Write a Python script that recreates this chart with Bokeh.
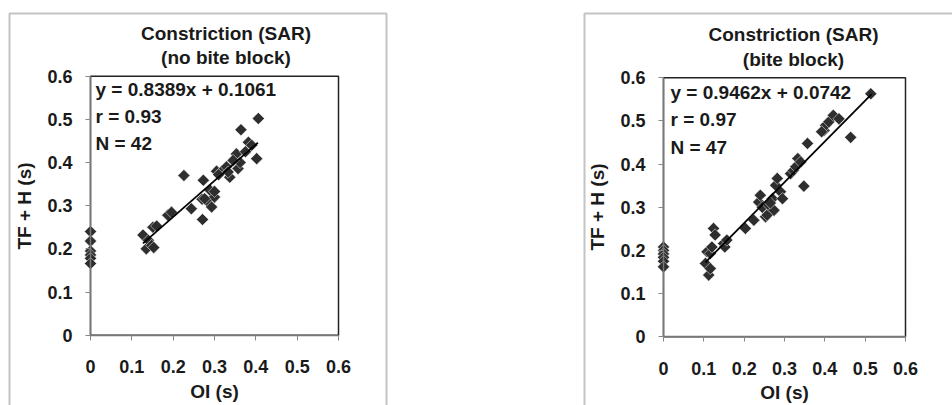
import numpy as np
from bokeh.plotting import figure
from bokeh.layouts import row
from bokeh.models import (FixedTicker, Label, ColumnDataSource,
                          GlobalInlineStyleSheet)
from bokeh.embed import file_html
from bokeh.resources import INLINE

# ---------------- data ----------------
tick_values = [0.0, 0.1, 0.2, 0.3, 0.4, 0.5, 0.6]
tick_labels = ["0", "0.1", "0.2", "0.3", "0.4", "0.5", "0.6"]

title_left = ["Constriction (SAR)", "(no bite block)"]
title_right = ["Constriction (SAR)", "(bite block)"]
x_label = "OI (s)"
y_label = "TF + H (s)"

# no bite block
nb_x = [0, 0, 0, 0, 0, 0,
        0.127, 0.135, 0.140, 0.148, 0.153, 0.151, 0.160, 0.187, 0.196, 0.226,
        0.244, 0.271, 0.273, 0.270, 0.281, 0.289, 0.293, 0.300, 0.300, 0.305,
        0.318, 0.329, 0.337, 0.333, 0.353, 0.357, 0.362, 0.364, 0.375, 0.382,
        0.390, 0.402, 0.406, 0.276, 0.345, 0.310]
nb_y = [0.240, 0.218, 0.195, 0.186, 0.178, 0.166,
        0.232, 0.200, 0.220, 0.208, 0.203, 0.250, 0.253, 0.278, 0.285, 0.370,
        0.293, 0.268, 0.359, 0.315, 0.312, 0.336, 0.297, 0.320, 0.333, 0.380,
        0.380, 0.390, 0.366, 0.378, 0.420, 0.386, 0.400, 0.476, 0.425, 0.447,
        0.440, 0.409, 0.502, 0.316, 0.405, 0.372]
nb_fit = {"slope": 0.8389, "intercept": 0.1061, "xmin": 0.127, "xmax": 0.405}
nb_text = ["y = 0.8389x + 0.1061", "r = 0.93", "N = 42"]

# bite block
bb_x = [0, 0, 0, 0, 0, 0,
        0.104, 0.108, 0.112, 0.116, 0.116, 0.120, 0.124, 0.128, 0.149, 0.152,
        0.157, 0.203, 0.224, 0.236, 0.240, 0.245, 0.253, 0.257, 0.261, 0.274,
        0.270, 0.278, 0.282, 0.290, 0.295, 0.315, 0.322, 0.328, 0.333, 0.340,
        0.348, 0.357, 0.398, 0.402, 0.410, 0.421, 0.435, 0.464, 0.514, 0.265,
        0.392]
bb_y = [0.208, 0.200, 0.192, 0.184, 0.175, 0.162,
        0.170, 0.197, 0.143, 0.158, 0.193, 0.208, 0.251, 0.236, 0.216, 0.208,
        0.224, 0.251, 0.270, 0.312, 0.328, 0.300, 0.278, 0.282, 0.305, 0.293,
        0.320, 0.351, 0.367, 0.336, 0.320, 0.378, 0.385, 0.394, 0.413, 0.405,
        0.349, 0.448, 0.478, 0.490, 0.498, 0.513, 0.505, 0.462, 0.563, 0.310,
        0.475]
bb_fit = {"slope": 0.9462, "intercept": 0.0742, "xmin": 0.104, "xmax": 0.516}
bb_text = ["y = 0.9462x + 0.0742", "r = 0.97", "N = 47"]

FONT = "Liberation Sans"
TXT = "#1a1a1a"


def panel(xs, ys, fit, titles, texts, width, bl, br, fw, fh,
          x0_px, y6_px, data_w, data_h, title_dx, text_dx, text_dys):
    """Frame = the grey chart-area box; the data box sits inside it."""
    lo, hi = tick_values[0], tick_values[-1]
    sx = data_w / (hi - lo)
    sy = data_h / (hi - lo)
    x_start = lo - x0_px / sx
    x_end = x_start + fw / sx
    y_end = hi + y6_px / sy
    y_start = y_end - fh / sy
    top = 13
    p = figure(width=width, height=top + fh, output_backend="svg",
               toolbar_location=None, x_range=(x_start, x_end),
               y_range=(y_start, y_end),
               frame_width=fw, frame_height=fh,
               min_border_left=bl, min_border_right=br,
               min_border_top=top, min_border_bottom=0)
    p.background_fill_color = "white"
    p.border_fill_color = "white"
    p.grid.visible = False
    p.outline_line_color = "#c4c4c4"
    p.outline_line_width = 2

    # data-area box
    p.quad(left=lo, right=hi, bottom=lo, top=hi, fill_color=None,
           line_color="#222222", line_width=1.5)

    for ax in (p.xaxis[0], p.yaxis[0]):
        ax.fixed_location = 0
        ax.bounds = (lo, hi)
        ax.ticker = FixedTicker(ticks=tick_values)
        ax.major_label_overrides = dict(zip(tick_values, tick_labels))
        ax.minor_tick_line_color = None
        ax.major_tick_in = 0
        ax.major_tick_out = 5
        ax.major_tick_line_color = "#888888"
        ax.axis_line_color = "#777777"
        ax.axis_line_width = 1.5
        ax.major_label_text_font = FONT
        ax.major_label_text_font_style = "bold"
        ax.major_label_text_font_size = "18px"
        ax.major_label_text_color = TXT
        ax.axis_label_text_font = FONT
        ax.axis_label_text_font_style = "bold"
        ax.axis_label_text_font_size = "19px"
        ax.axis_label_text_color = TXT
    p.xaxis.axis_label = x_label
    p.yaxis.axis_label = y_label
    p.xaxis.major_label_standoff = 20
    p.xaxis.axis_label_standoff = 4
    p.yaxis.major_label_standoff = 13
    p.yaxis.axis_label_standoff = 9

    src = ColumnDataSource(dict(x=xs, y=ys))
    p.scatter("x", "y", source=src, marker="square", angle=np.pi / 4, size=8.6,
              fill_color="#2e2e2e", line_color="white", line_width=0.5)

    lx = np.array([fit["xmin"], fit["xmax"]])
    ly = fit["slope"] * lx + fit["intercept"]
    p.line(lx, ly, line_color="black", line_width=1.8)

    for i, t in enumerate(titles):
        p.add_layout(Label(x=lo, y=hi, x_offset=title_dx, y_offset=[43, 18.5][i],
                           text=t, text_align="center", text_baseline="alphabetic",
                           text_font=FONT, text_font_style="bold",
                           text_font_size="19px", text_color=TXT))
    for i, t in enumerate(texts):
        p.add_layout(Label(x=lo, y=hi, x_offset=text_dx, y_offset=-text_dys[i],
                           text=t, text_align="left", text_baseline="alphabetic",
                           text_font=FONT, text_font_style="bold",
                           text_font_size="19px", text_color=TXT))
    return p


# left: page x 0..583, grey box from x=9
p1 = panel(nb_x, nb_y, nb_fit, title_left, nb_text,
           width=583, bl=9, br=197, fw=377, fh=407,
           x0_px=81, y6_px=62.7, data_w=248, data_h=259,
           title_dx=135.5, text_dx=5, text_dys=[13, 40.3, 67.5])
# right: page x 583.., grey box from x=584
p2 = panel(bb_x, bb_y, bb_fit, title_right, bb_text,
           width=381, bl=1, br=0, fw=380, fh=407,
           x0_px=79, y6_px=64.3, data_w=242, data_h=259,
           title_dx=130, text_dx=7, text_dys=[15, 41.7, 69.3])

p = row(p1, p2, spacing=0,
        stylesheets=[GlobalInlineStyleSheet(css="html, body { overflow: hidden; }")])

open("out.html", "w").write(file_html(p, INLINE))
